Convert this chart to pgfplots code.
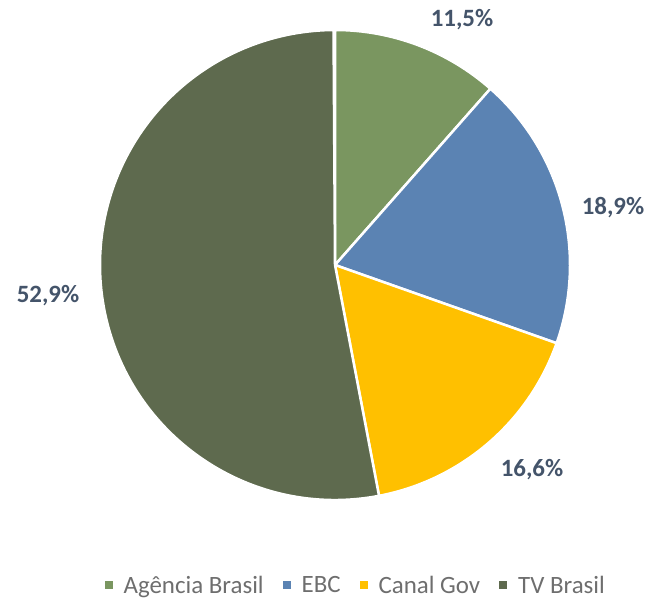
\documentclass[border=0pt]{standalone}
\usepackage{fontspec}
\setmainfont{Carlito}
\usepackage{pgfplots}
\usepackage{pgfplotstable}
\pgfplotsset{compat=1.18}

\definecolor{cAB}{HTML}{7A9660}
\definecolor{cEBC}{HTML}{5B83B3}
\definecolor{cCG}{HTML}{FFC000}
\definecolor{cTV}{HTML}{5E6A4E}
\definecolor{labelc}{HTML}{44546A}
\definecolor{legc}{HTML}{6E6E6E}

% shares in percent, clockwise from 12 o'clock
\pgfplotstableread{
name share col
AB  11.5 cAB
EBC 18.9 cEBC
CG  16.6 cCG
TV  52.9 cTV
}\piedata

\begin{document}
\begin{tikzpicture}
\begin{axis}[
    width=648bp, height=602bp, scale only axis,
    xmin=0, xmax=648, ymin=0, ymax=602,
    hide axis, clip=false,
    legend columns=4,
    legend style={at={(0.549,0.028)}, anchor=center, draw=none, fill=none,
        font=\fontsize{25}{29}\selectfont, text=legc,
        /tikz/every even column/.append style={column sep=17bp}},
    legend image code/.code={\path[draw=none] (0bp,0bp) -- (17bp,0bp);
        \fill[#1, draw=none] (0bp,-4bp) rectangle (8bp,4bp);},
]
% keep the full frame as bounding box
\path (rel axis cs:0,0) rectangle (rel axis cs:1,1);
\xdef\angA{90}
\pgfplotsforeachungrouped \i in {0,...,3}{
    \pgfplotstablegetelem{\i}{share}\of\piedata \let\v\pgfplotsretval
    \pgfplotstablegetelem{\i}{col}\of\piedata \let\c\pgfplotsretval
    \pgfmathsetmacro\angB{\angA-3.6*\v}
    \edef\temp{\noexpand\fill[fill=\c, draw=white, line width=2.5bp]
        (axis cs:335,337) -- ++(\angA:235bp)
        arc[start angle=\angA, end angle=\angB, radius=235bp] -- cycle;}
    \temp
    \xdef\angA{\angB}
}
\addlegendimage{cAB}\addlegendentry{Agência Brasil}
\addlegendimage{cEBC}\addlegendentry{EBC}
\addlegendimage{cCG}\addlegendentry{Canal Gov}
\addlegendimage{cTV}\addlegendentry{TV Brasil}

\begin{scope}[font=\fontsize{25}{29}\selectfont\bfseries, text=labelc]
\node at (axis cs:462,582) {11,5\%};
\node at (axis cs:613,394) {18,9\%};
\node at (axis cs:532,132) {16,6\%};
\node at (axis cs:48,306) {52,9\%};
\end{scope}
\end{axis}
\end{tikzpicture}
\end{document}
